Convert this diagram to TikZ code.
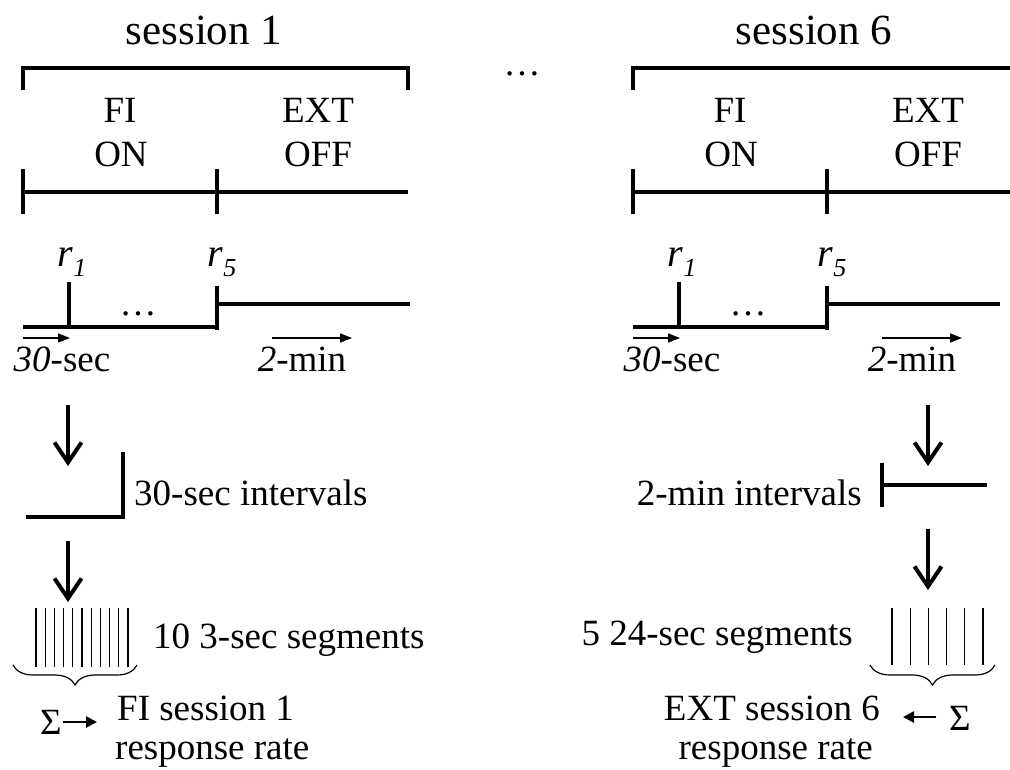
\documentclass[tikz,border=0pt]{standalone}
\usepackage{fontspec}
\setmainfont{Liberation Serif}
\usetikzlibrary{arrows.meta,decorations.pathreplacing}
\newcommand{\bigtxt}{\fontsize{43}{46}\selectfont}
\newcommand{\midtxt}{\fontsize{37}{40}\selectfont}
\newcommand{\rtxt}{\fontsize{40}{42}\selectfont}
\newcommand{\subtxt}{\fontsize{26}{28}\selectfont}
\begin{document}
\begin{tikzpicture}[x=1pt,y=-1pt,
  thickln/.style={line width=4pt},
  thinln/.style={line width=1.2pt},
  lbl/.style={inner sep=0pt,font=\midtxt},
  title/.style={inner sep=0pt,font=\bigtxt},
  rlbl/.style={inner sep=0pt,font=\rtxt\itshape},
  downarrow/.style={line width=4pt,-{Straight Barb[length=20pt,width=27pt,line width=4pt]}},
  smallarrow/.style={line width=1.5pt,-{Triangle[length=12pt,width=9pt]}},
  sumarrow/.style={line width=2.5pt,-{Triangle[length=11pt,width=11pt]}},
  bracebelow/.style={thinln,decorate,decoration={brace,amplitude=20pt,mirror}}]
\useasboundingbox (0,0) rectangle (1010,769);
\clip (0,0) rectangle (1010,769);

% ---------------- left: session 1 ----------------
\node[title] (s1) at (204,30) {session 1};
\coordinate (L-bl) at (23,90);
\coordinate (L-tl) at (23,68);
\coordinate (L-tr) at (408,68);
\coordinate (L-br) at (408,90);
\draw[thickln] (L-bl) -- (L-tl) -- (L-tr) -- (L-br);
\node[lbl] (L-fi) at (120,110) {FI};
\node[lbl] (L-on) at (121,154) {ON};
\node[lbl] (L-ext) at (318,110) {EXT};
\node[lbl] (L-off) at (318,154) {OFF};
\coordinate (L-t0) at (23,192);
\coordinate (L-t1) at (217,192);
\coordinate (L-t2) at (408,192);
\draw[thickln] (L-t0) -- (L-t2);
\draw[thickln] ([yshift=-22pt]L-t0) -- ([yshift=23pt]L-t0);
\draw[thickln] ([yshift=-22pt]L-t1) -- ([yshift=23pt]L-t1);

\node[rlbl] (L-r1) at (72,262) {r\raisebox{-10pt}{\subtxt 1}};
\node[rlbl] (L-r5) at (222,262) {r\raisebox{-10pt}{\subtxt 5}};
\coordinate (L-a0) at (23,327);
\coordinate (L-a1) at (69,327);
\coordinate (L-a2) at (217,327);
\coordinate (L-b2) at (217,304);
\coordinate (L-b3) at (410,304);
\draw[thickln] (L-a0) -- (L-a2);
\draw[thickln] (L-a1) -- ++(0,-45);
\draw[thickln] (217,286) -- (217,330);
\draw[thickln] (L-b2) -- (L-b3);
\node[lbl] (L-dots) at (138,314) {…};
\coordinate (L-s0) at (23,338);
\coordinate (L-s1) at (70,338);
\coordinate (L-m0) at (272,338);
\coordinate (L-m1) at (352,338);
\draw[smallarrow] (L-s0) -- (L-s1);
\draw[smallarrow] (L-m0) -- (L-m1);
\node[lbl] (L-30) at (62,359) {{\itshape 30}-sec};
\node[lbl] (L-2) at (302,359) {{\itshape 2}-min};

\coordinate (L-d1a) at (68,405);
\coordinate (L-d1b) at (68,466);
\draw[downarrow] (L-d1a) -- (L-d1b);
\coordinate (L-i0) at (26,517);
\coordinate (L-i1) at (123,517);
\coordinate (L-i2) at (123,452);
\draw[thickln] (L-i0) -- (L-i1) -- (L-i2);
\node[lbl,anchor=west] (L-int) at (134,493) {30-sec intervals};
\coordinate (L-d2a) at (68,541);
\coordinate (L-d2b) at (68,602);
\draw[downarrow] (L-d2a) -- (L-d2b);
\foreach \i in {0,...,10} {
  \draw[thinln] ({36+9.2*\i},608) -- ({36+9.2*\i},667);
}
\node[lbl,anchor=west] (L-seg) at (153,640) {10 3-sec segments};
\coordinate (L-br0) at (13,665);
\coordinate (L-br1) at (137,665);
\draw[bracebelow] (L-br0) -- (L-br1);
\node[lbl] (L-sig) at (51,722) {Σ};
\draw[sumarrow] (L-sig.east) ++(1,0) coordinate (L-sa0) -- (97,722) coordinate (L-sa1);
\node[lbl,anchor=west] (L-res1) at (117,708) {FI session 1};
\node[lbl,anchor=west] (L-res2) at (115,753) {response rate};

% ---------------- middle dots ----------------
\node[lbl] (mid) at (522,74) {…};

% ---------------- right: session 6 ----------------
\node[title] (s6) at (814,30) {session 6};
\coordinate (R-bl) at (633,90);
\coordinate (R-tl) at (633,68);
\coordinate (R-tr) at (1012,68);
\draw[thickln] (R-bl) -- (R-tl) -- (R-tr);
\node[lbl] (R-fi) at (730,110) {FI};
\node[lbl] (R-on) at (731,154) {ON};
\node[lbl] (R-ext) at (928,110) {EXT};
\node[lbl] (R-off) at (928,154) {OFF};
\coordinate (R-t0) at (633,192);
\coordinate (R-t1) at (827,192);
\coordinate (R-t2) at (1012,192);
\draw[thickln] (R-t0) -- (R-t2);
\draw[thickln] ([yshift=-22pt]R-t0) -- ([yshift=23pt]R-t0);
\draw[thickln] ([yshift=-22pt]R-t1) -- ([yshift=23pt]R-t1);

\node[rlbl] (R-r1) at (682,262) {r\raisebox{-10pt}{\subtxt 1}};
\node[rlbl] (R-r5) at (832,262) {r\raisebox{-10pt}{\subtxt 5}};
\coordinate (R-a0) at (633,327);
\coordinate (R-a1) at (679,327);
\coordinate (R-a2) at (827,327);
\coordinate (R-b2) at (827,304);
\coordinate (R-b3) at (1000,304);
\draw[thickln] (R-a0) -- (R-a2);
\draw[thickln] (R-a1) -- ++(0,-45);
\draw[thickln] (827,286) -- (827,330);
\draw[thickln] (R-b2) -- (R-b3);
\node[lbl] (R-dots) at (748,314) {…};
\coordinate (R-s0) at (633,338);
\coordinate (R-s1) at (680,338);
\coordinate (R-m0) at (882,338);
\coordinate (R-m1) at (962,338);
\draw[smallarrow] (R-s0) -- (R-s1);
\draw[smallarrow] (R-m0) -- (R-m1);
\node[lbl] (R-30) at (672,359) {{\itshape 30}-sec};
\node[lbl] (R-2) at (912,359) {{\itshape 2}-min};

\coordinate (R-d1a) at (928,405);
\coordinate (R-d1b) at (928,466);
\draw[downarrow] (R-d1a) -- (R-d1b);
\coordinate (R-i0) at (882,463);
\coordinate (R-i1) at (882,507);
\coordinate (R-i2) at (882,485);
\coordinate (R-i3) at (987,485);
\draw[thickln] (R-i0) -- (R-i1);
\draw[thickln] (R-i2) -- (R-i3);
\node[lbl,anchor=east] (R-int) at (862,493) {2-min intervals};
\coordinate (R-d2a) at (928,529);
\coordinate (R-d2b) at (928,590);
\draw[downarrow] (R-d2a) -- (R-d2b);
\foreach \i in {0,...,5} {
  \draw[thinln] ({892+18.2*\i},608) -- ({892+18.2*\i},665);
}
\node[lbl,anchor=east] (R-seg) at (853,637) {5 24-sec segments};
\coordinate (R-br0) at (870,665);
\coordinate (R-br1) at (995,665);
\draw[bracebelow] (R-br0) -- (R-br1);
\node[lbl] (R-sig) at (960,718) {Σ};
\coordinate (R-sa1) at (903,717);
\draw[sumarrow] ([xshift=-13pt]R-sig.west |- R-sa1) -- (R-sa1);
\node[lbl,anchor=east] (R-res1) at (880,708) {EXT session 6};
\node[lbl,anchor=east] (R-res2) at (873,753) {response rate};
\end{tikzpicture}
\end{document}
